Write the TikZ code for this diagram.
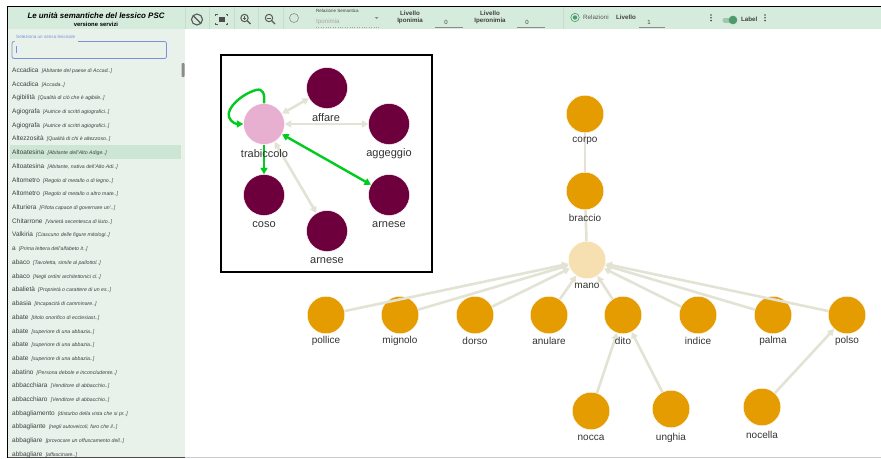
\documentclass[tikz,border=0pt]{standalone}
\usepackage{fontspec}
\setmainfont{Liberation Sans}
\usetikzlibrary{arrows.meta}
\definecolor{barg}{HTML}{D5EBDC}
\definecolor{panelg}{HTML}{E8F2EA}
\definecolor{rowg}{HTML}{CDE6D4}
\definecolor{sepg}{HTML}{C6DCCD}
\definecolor{edgeg}{HTML}{E3E3D5}
\definecolor{hlg}{HTML}{00CC1F}
\definecolor{plum}{HTML}{6D003C}
\definecolor{pinkn}{HTML}{E8B0D0}
\definecolor{orangen}{HTML}{E59C00}
\definecolor{palen}{HTML}{F6DFB0}
\definecolor{bluel}{HTML}{7B90D8}
\definecolor{inkg}{HTML}{404040}
\definecolor{togg}{HTML}{4E9A6C}
\tikzset{
  x=1pt,y=-1pt,
  dot/.style={circle,inner sep=0pt,draw=white,line width=.4pt,minimum size=#1},
  purplen/.style={dot=41,fill=plum},
  pinknode/.style={dot=41,fill=pinkn},
  ornode/.style={dot=37.5,fill=orangen},
  palenode/.style={dot=37.5,fill=palen},
  lab/.style={font=\fontsize{11}{11}\selectfont,text=black!80,inner sep=0pt},
  lab2/.style={font=\fontsize{10}{10}\selectfont,text=black!80,inner sep=0pt},
  ge/.style={draw=edgeg,line width=2.6pt},
  gea/.style={ge,-{Triangle[length=6.5pt,width=7pt]}},
  geb/.style={ge,{Triangle[length=6.5pt,width=7pt]}-{Triangle[length=6.5pt,width=7pt]}},
  gr/.style={draw=hlg,line width=2.4pt},
  gra/.style={gr,-{Triangle[length=6.5pt,width=7pt]}},
  grb/.style={gr,{Triangle[length=6.5pt,width=7pt]}-{Triangle[length=6.5pt,width=7pt]}},
  bar/.style={font=\fontsize{6.2}{7.5}\selectfont\bfseries,text=inkg,inner sep=0pt,align=center},
  tiny/.style={font=\fontsize{4.6}{5}\selectfont,inner sep=0pt},
  val/.style={font=\fontsize{6}{6}\selectfont,text=inkg,inner sep=0pt},
  sep/.style={draw=sepg,line width=.5pt},
  under/.style={draw=black!45,line width=.5pt},
  icon/.style={draw=black!65,line width=1pt},
  listrow/.style={anchor=west,inner sep=0pt,text=inkg,font=\fontsize{6.5}{7}\selectfont},
}
\begin{document}
\begin{tikzpicture}
\useasboundingbox (0,0) rectangle (881,458);
\fill[white] (0,0) rectangle (881,458);
% bars
\fill[barg] (8,7) rectangle (881,29);
\fill[panelg] (8,29) rectangle (185,458);
\fill[rowg] (10,145) rectangle (181,158.5);
\draw[black,line width=1.3pt] (7.5,458) -- (7.5,6.3) -- (881,6.3);
\draw[black!20,line width=.8pt] (185,457) -- (881,457);
\draw[black!70,line width=.8pt] (8,457.6) -- (185,457.6);
\foreach \sx in {185,209,234,258,283,563}{\draw[sep] (\sx,7) -- (\sx,29);}
% title
\node[inner sep=0pt,font=\fontsize{7.9}{8}\selectfont\bfseries\itshape] (title) at (96,15.5) {Le unità semantiche del lessico PSC};
\node[inner sep=0pt,font=\fontsize{5.9}{6}\selectfont\bfseries] (subtitle) at (96,24.7) {versione servizi};
% toolbar icons
\draw[icon,line width=1.1pt] (197,19.5) circle (5.5);
\draw[icon,line width=1.1pt] (193.2,15.7) -- (200.8,23.3);
\fill[black!70] (218.5,16.5) rectangle (224.5,22);
\draw[icon,line width=.8pt] (215.5,16) -- (215.5,14) -- (217.5,14) (227.5,16) -- (227.5,14) -- (225.5,14) (215.5,22.5) -- (215.5,24.5) -- (217.5,24.5) (227.5,22.5) -- (227.5,24.5) -- (225.5,24.5);
\draw[icon] (244.5,18) circle (3.7);
\draw[icon,line width=1.3pt] (247.3,20.8) -- (250.5,24);
\draw[icon,line width=.6pt] (242.8,18) -- (246.2,18) (244.5,16.3) -- (244.5,19.7);
\draw[icon] (269,18) circle (3.7);
\draw[icon,line width=1.3pt] (271.8,20.8) -- (275,24);
\draw[icon,line width=.6pt] (267.3,18) -- (270.7,18);
\draw[black!45,line width=.6pt] (294,18) circle (4.5);
% semantic relation
\node[tiny,font=\fontsize{4.5}{5}\selectfont,text=inkg,anchor=west] (relsem) at (316,11) {Relazione Semantica};
\node[inner sep=0pt,anchor=west,font=\fontsize{6.2}{7}\selectfont,text=black!35] (ipon) at (316,21.5) {Iponimia};
\fill[black!45] (374.5,17) -- (378.5,17) -- (376.5,19) -- cycle;
\draw[black!35,line width=.4pt,dotted] (316,27) -- (380,27);
\node[bar] (liv1) at (410,17.6) {Livello\\Iponimia};
\node[val] (v1) at (446,22) {0};
\draw[under] (435,27.6) -- (463,27.6);
\node[bar] (liv2) at (490,17.6) {Livello\\Iperonimia};
\node[val] (v2) at (527,22) {0};
\draw[under] (517,27.6) -- (545,27.6);
\draw[togg,line width=.6pt] (575,17.5) circle (4.2);
\fill[togg] (575,17.5) circle (2.2);
\node[bar,anchor=west,font=\fontsize{6.2}{7}\selectfont,text=black!65] (relaz) at (583,17.5) {Relazioni};
\node[bar,anchor=west] (liv3) at (616,17.5) {Livello};
\node[val] (v3) at (649,22) {1};
\draw[under] (639,27.6) -- (665,27.6);
\foreach \dx in {711,765}{\foreach \dy in {15,17.8,20.6}{\fill[black!70] (\dx,\dy) circle (.9);}}
\draw[togg!55,line width=5pt,line cap=round] (725,20) -- (734,20);
\fill[togg] (733,20) circle (4.3);
\node[bar,anchor=west] (labtog) at (741,19.5) {Label};
% search box
\draw[bluel,line width=.8pt,rounded corners=2pt] (78,41.5) -- (166.5,41.5) -- (166.5,58.5) -- (12,58.5) -- (12,41.5) -- (14.5,41.5);
\node[tiny,text=bluel,anchor=west,font=\fontsize{4.6}{5}\selectfont] (searchlab) at (16,36.5) {Seleziona un senso lessicale};
\draw[bluel,line width=.5pt] (16.5,46) -- (16.5,52.5);
\fill[black!45,rounded corners=.8pt] (181.5,63) rectangle (184.5,77);
% list
\foreach \w/\d [count=\i from 0] in {
 Accadica/{Abitante del paese di Accad..},
 Accadica/{Accada..},
 Agibilità/{Qualità di ciò che è agibile..},
 Agiografa/{Autrice di scritti agiografici..},
 Agiografa/{Autrice di scritti agiografici..},
 Altezzosità/{Qualità di chi è altezzoso..},
 Altoatesina/{Abitante dell'Alto Adige..},
 Altoatesina/{Abitante, nativa dell'Alto Adi..},
 Altometro/{Regolo di metallo o di legno..},
 Altometro/{Regolo di metallo o altro mate..},
 Alturiera/{Pilota capace di governare un'..},
 Chitarrone/{Varietà secentesca di liuto..},
 Valkiria/{Ciascuno delle figure mitologi..},
 a/{Prima lettera dell'alfabeto it..},
 abaco/{Tavoletta, simile al pallottol..},
 abaco/{Negli ordini architettonici cl..},
 abalietà/{Proprietà o carattere di un es..},
 abasia/{Incapacità di camminare..},
 abate/{titolo onorifico di ecclesiast..},
 abate/{superiore di una abbazia..},
 abate/{superiore di una abbazia..},
 abate/{superiore di una abbazia..},
 abatino/{Persona debole e inconcludente..},
 abbacchiara/{Venditore di abbacchio..},
 abbacchiaro/{Venditore di abbacchio..},
 abbagliamento/{disturbo della vista che si pr..},
 abbagliante/{negli autoveicoli, faro che il..},
 abbagliare/{provocare un offuscamento dell..},
 abbagliare/{affascinare..}}{
  \pgfmathsetmacro{\ry}{70.5+13.72*\i}
  \node[listrow] (row\i) at (12,\ry) {\w\hspace{3.2pt}{\fontsize{5.2}{5.5}\selectfont\itshape [\d]}};
}
% framed sub-graph
\draw[black,line width=2pt] (220.5,54.5) rectangle (431.5,272);
\node[pinknode] (tr) at (264,124) {};
\node[purplen] (af) at (327,88) {};
\node[purplen] (ag) at (389,124) {};
\node[purplen] (co) at (264,195) {};
\node[purplen] (ar1) at (389,195) {};
\node[purplen] (ar2) at (327,231) {};
\draw[geb] (tr) -- (af);
\draw[geb] (tr) -- (ag);
\draw[geb] (tr) -- (ar2);
\draw[gra] (tr) -- (co);
\draw[grb] (tr) -- (ar1);
\draw[gra] (tr.north) .. controls (265,94) and (263,88) .. (256,90) .. controls (242,94) and (226,108) .. (229,117) .. controls (231,123) and (237,124) .. (tr.west);
\node[lab] (ltr) at (264.5,154) {trabiccolo};
\node[lab] (laf) at (326,118) {affare};
\node[lab] (lag) at (389,154) {aggeggio};
\node[lab] (lco) at (264,225) {coso};
\node[lab] (lar1) at (389,225) {arnese};
\node[lab] (lar2) at (327,261) {arnese};
% right graph
\node[ornode] (corpo) at (585,114) {};
\node[ornode] (braccio) at (585,191) {};
\node[palenode] (mano) at (587,260) {};
\node[ornode] (pollice) at (326,315) {};
\node[ornode] (mignolo) at (400,315) {};
\node[ornode] (dorso) at (475,315) {};
\node[ornode] (anulare) at (549,315) {};
\node[ornode] (dito) at (623,315) {};
\node[ornode] (indice) at (698,315) {};
\node[ornode] (palma) at (773,315) {};
\node[ornode] (polso) at (847,315) {};
\node[ornode] (nocca) at (591,411) {};
\node[ornode] (unghia) at (671,409) {};
\node[ornode] (nocella) at (762,407) {};
\draw[ge] (corpo) -- (braccio);
\draw[ge] (braccio) -- (mano);
\foreach \n in {pollice,mignolo,dorso,anulare,dito,indice,palma,polso}{\draw[gea] (\n) -- (mano);}
\draw[gea] (nocca) -- (dito);
\draw[gea] (unghia) -- (dito);
\draw[gea] (nocella) -- (polso);
\node[lab2] (lcorpo) at (585,141) {corpo};
\node[lab2] (lbraccio) at (585,218) {braccio};
\node[lab2] (lmano) at (587,286) {mano};
\node[lab2] (lpollice) at (326,341) {pollice};
\node[lab2] (lmignolo) at (400,341) {mignolo};
\node[lab2] (ldorso) at (475,341) {dorso};
\node[lab2] (lanulare) at (549,341) {anulare};
\node[lab2] (ldito) at (623,341) {dito};
\node[lab2] (lindice) at (698,341) {indice};
\node[lab2] (lpalma) at (773,341) {palma};
\node[lab2] (lpolso) at (847,341) {polso};
\node[lab2] (lnocca) at (591,438) {nocca};
\node[lab2] (lunghia) at (671,438) {unghia};
\node[lab2] (lnocella) at (762,435) {nocella};
\end{tikzpicture}
\end{document}
